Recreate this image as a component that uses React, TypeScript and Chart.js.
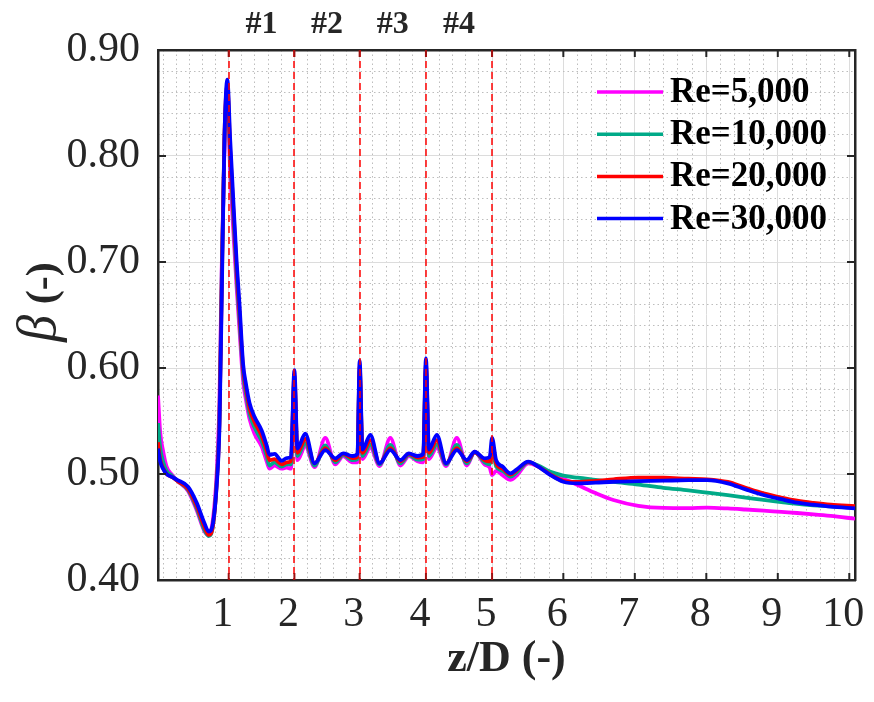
import React, { useEffect, useRef } from "react";
import { Chart, registerables } from "chart.js";

Chart.register(...registerables);

// ---- data (x in axis units; tick labels mapped below) ----
const zPos = [
  0.33, 0.36, 0.40, 0.45, 0.53, 0.61, 0.75, 0.87, 0.98, 1.04,
  1.10, 1.15, 1.19, 1.22, 1.26, 1.30, 1.34, 1.39, 1.43, 1.47,
  1.52, 1.56, 1.61, 1.68, 1.78, 1.85, 1.89, 1.96, 2.06, 2.13,
  2.19, 2.238, 2.28, 2.39, 2.52, 2.67, 2.81, 2.92, 3.05, 3.12,
  3.151, 3.19, 3.30, 3.43, 3.58, 3.72, 3.84, 3.96, 4.04, 4.078,
  4.12, 4.23, 4.36, 4.51, 4.65, 4.76, 4.90, 4.97, 5.003, 5.06,
  5.15, 5.26, 5.34, 5.51, 5.65, 5.82, 6.00, 6.20, 6.45, 6.70,
  7.05, 7.40, 7.75, 8.01, 8.30, 8.55, 8.80, 9.05, 9.27, 9.50,
  9.74, 10.08,
];

const beta5k = [
  0.574, 0.540, 0.522, 0.507, 0.499, 0.493, 0.484, 0.466, 0.446, 0.4425,
  0.458, 0.500, 0.570, 0.690, 0.810, 0.855, 0.785, 0.722, 0.676, 0.636,
  0.588, 0.570, 0.552, 0.538, 0.526, 0.512, 0.505, 0.508, 0.505, 0.506,
  0.505, 0.583, 0.513, 0.526, 0.5065, 0.534, 0.509, 0.517, 0.511, 0.511,
  0.594, 0.514, 0.525, 0.5075, 0.534, 0.508, 0.517, 0.512, 0.511, 0.597,
  0.514, 0.525, 0.5075, 0.534, 0.508, 0.521, 0.509, 0.506, 0.499, 0.503,
  0.499, 0.4945, 0.498, 0.510, 0.507, 0.5005, 0.4955, 0.4896, 0.482, 0.4755,
  0.4700, 0.4680, 0.4678, 0.4682, 0.4675, 0.4665, 0.4654, 0.4642, 0.4632, 0.4620,
  0.4605, 0.4578,
];

const beta10k = [
  0.548, 0.525, 0.512, 0.503, 0.498, 0.493, 0.485, 0.468, 0.447, 0.4415,
  0.452, 0.492, 0.555, 0.680, 0.815, 0.862, 0.798, 0.735, 0.686, 0.645,
  0.595, 0.576, 0.557, 0.544, 0.531, 0.517, 0.508, 0.511, 0.507, 0.509,
  0.509, 0.588, 0.517, 0.529, 0.508, 0.527, 0.511, 0.518, 0.513, 0.514,
  0.598, 0.517, 0.528, 0.509, 0.5275, 0.510, 0.518, 0.5135, 0.514, 0.600,
  0.517, 0.528, 0.509, 0.5275, 0.510, 0.5205, 0.511, 0.509, 0.524, 0.507,
  0.503, 0.4975, 0.501, 0.511, 0.508, 0.502, 0.4985, 0.4965, 0.4945, 0.4925,
  0.4900, 0.4870, 0.4845, 0.4824, 0.4800, 0.4778, 0.4755, 0.4735, 0.4718, 0.4705,
  0.4695, 0.4686,
];

const beta20k = [
  0.530, 0.514, 0.506, 0.500, 0.497, 0.493, 0.486, 0.470, 0.450, 0.4425,
  0.452, 0.490, 0.550, 0.670, 0.820, 0.866, 0.805, 0.742, 0.693, 0.652,
  0.600, 0.581, 0.562, 0.549, 0.536, 0.522, 0.513, 0.514, 0.509, 0.511,
  0.512, 0.593, 0.520, 0.533, 0.510, 0.5245, 0.513, 0.519, 0.515, 0.516,
  0.602, 0.520, 0.532, 0.510, 0.5245, 0.512, 0.519, 0.5155, 0.516, 0.604,
  0.520, 0.532, 0.510, 0.5245, 0.512, 0.5205, 0.513, 0.512, 0.528, 0.510,
  0.505, 0.4995, 0.503, 0.5115, 0.507, 0.4995, 0.4935, 0.4925, 0.4935, 0.4950,
  0.4966, 0.4965, 0.4955, 0.4950, 0.4925, 0.4870, 0.4818, 0.4778, 0.4748, 0.4727,
  0.4710, 0.4697,
];

const beta30k = [
  0.524, 0.512, 0.505, 0.500, 0.497, 0.494, 0.488, 0.473, 0.4535, 0.4456,
  0.454, 0.488, 0.545, 0.660, 0.818, 0.872, 0.815, 0.750, 0.700, 0.660,
  0.604, 0.585, 0.567, 0.554, 0.541, 0.527, 0.518, 0.519, 0.5125, 0.515,
  0.516, 0.598, 0.524, 0.538, 0.510, 0.5226, 0.5148, 0.5195, 0.517, 0.519,
  0.607, 0.523, 0.537, 0.510, 0.5226, 0.5132, 0.5195, 0.517, 0.519, 0.609,
  0.523, 0.537, 0.510, 0.5226, 0.5132, 0.521, 0.5148, 0.516, 0.534, 0.513,
  0.507, 0.5006, 0.5038, 0.5116, 0.507, 0.499, 0.4927, 0.4912, 0.4918, 0.4927,
  0.4932, 0.4937, 0.4942, 0.4943, 0.4912, 0.4855, 0.4802, 0.4762, 0.4730, 0.4710,
  0.4692, 0.4676,
];

const seriesLabels = ["Re=5,000", "Re=10,000", "Re=20,000", "Re=30,000"];
const seriesColors = ["#FF00FF", "#00AA88", "#FF0000", "#0000FF"];
const seriesValues = [beta5k, beta10k, beta20k, beta30k];

const ribPos = [1.319, 2.238, 3.151, 4.078, 5.003];
const ribLabels = ["#1", "#2", "#3", "#4"];
const xTickPos = [1.319, 2.238, 3.151, 4.078, 5.003, 6, 7, 8, 9, 10];
const xTickLabels = ["1", "2", "3", "4", "5", "6", "7", "8", "9", "10"];
const X_MIN = 0.33;
const X_MAX = 10.08;
const Y_MIN = 0.4;
const Y_MAX = 0.9;
const yMajor = [0.4, 0.5, 0.6, 0.7, 0.8, 0.9];

// ---- derived layout helpers ----
const ribMid = ribLabels.map((_, i) => (ribPos[i] + ribPos[i + 1]) / 2);
const xMinor: number[] = (() => {
  const out: number[] = [];
  const step0 = (xTickPos[1] - xTickPos[0]) / 5;
  for (let v = xTickPos[0] - step0; v > X_MIN; v -= step0) out.push(v);
  for (let i = 0; i < xTickPos.length - 1; i++) {
    const st = (xTickPos[i + 1] - xTickPos[i]) / 5;
    for (let k = 1; k < 5; k++) out.push(xTickPos[i] + k * st);
  }
  return out;
})();
const yMinor: number[] = (() => {
  const out: number[] = [];
  for (let k = 0; k <= 25; k++) {
    if (k % 5 !== 0) out.push(0.4 + k * 0.02);
  }
  return out;
})();

const SERIF = "'Liberation Serif', 'Times New Roman', serif";
const AX = "#262626";

const noPad = (s: any) => {
  s.paddingLeft = 0;
  s.paddingRight = 0;
  s.paddingTop = 0;
  s.paddingBottom = 0;
};

const decorPlugin = {
  id: "decor",
  afterDraw(chart: any) {
    const { ctx, chartArea: ca, scales } = chart;
    const xs = scales.x;
    const ys = scales.y;
    ctx.save();
    // inward tick marks
    ctx.lineWidth = 2;
    const seg = (a: number, b: number, c: number, d: number, col: string) => {
      ctx.strokeStyle = col;
      ctx.beginPath();
      ctx.moveTo(a, b);
      ctx.lineTo(c, d);
      ctx.stroke();
    };
    xTickPos.forEach((v) => {
      const px = xs.getPixelForValue(v);
      const col = ribPos.includes(v) ? "#A01010" : AX;
      seg(px, ca.bottom, px, ca.bottom - 7, col);
      seg(px, ca.top, px, ca.top + 7, col);
    });
    yMajor.forEach((v) => {
      const py = ys.getPixelForValue(v);
      seg(ca.left, py, ca.left + 8, py, AX);
      seg(ca.right, py, ca.right - 8, py, AX);
    });

    // legend (inside, top-right, no box)
    chart.data.datasets.forEach((ds: any, i: number) => {
      const y = ca.top + 42 + i * 42.2;
      ctx.strokeStyle = ds.borderColor;
      ctx.lineWidth = 3.5;
      ctx.beginPath();
      ctx.moveTo(ca.right - 258, y);
      ctx.lineTo(ca.right - 192, y);
      ctx.stroke();
      ctx.fillStyle = "#000";
      ctx.font = `bold 35px ${SERIF}`;
      ctx.textAlign = "left";
      ctx.textBaseline = "middle";
      ctx.fillText(ds.label, ca.right - 185, y + 1);
    });

    // y-axis title: italic beta + bold (-)
    ctx.translate(55, 302);
    ctx.rotate(-Math.PI / 2);
    ctx.fillStyle = AX;
    ctx.textBaseline = "alphabetic";
    ctx.textAlign = "left";
    ctx.font = `italic 54px ${SERIF}`;
    const wb = ctx.measureText("β").width;
    ctx.font = `bold 42px ${SERIF}`;
    const w2 = ctx.measureText(" (-)").width;
    const start = -(wb + w2) / 2;
    ctx.font = `italic 54px ${SERIF}`;
    ctx.fillText("β", start, 0);
    ctx.font = `bold 42px ${SERIF}`;
    ctx.fillText(" (-)", start + wb, 0);
    ctx.restore();
  },
};

export default function App() {
  const ref = useRef<HTMLCanvasElement>(null);
  useEffect(() => {
    const canvas = ref.current;
    if (!canvas) return;
    const order = [4, 3, 2, 1];
    const datasets = seriesValues.map((vals, s) => ({
      label: seriesLabels[s],
      data: zPos.map((x, i) => ({ x, y: vals[i] })),
      borderColor: seriesColors[s],
      backgroundColor: seriesColors[s],
      borderWidth: 3.8,
      pointRadius: 0,
      fill: false,
      cubicInterpolationMode: "monotone" as const,
      order: order[s],
    }));

    const chart = new Chart(canvas, {
      type: "line",
      data: { datasets },
      plugins: [decorPlugin],
      options: {
        animation: false,
        responsive: false,
        maintainAspectRatio: false,
        layout: { padding: 0 },
        plugins: { legend: { display: false }, tooltip: { enabled: false } },
        scales: {
          x: {
            type: "linear",
            position: "bottom",
            min: X_MIN,
            max: X_MAX,
            afterBuildTicks: (s: any) => {
              s.ticks = xTickPos.map((v) => ({ value: v }));
            },
            ticks: {
              autoSkip: false,
              maxRotation: 0,
              padding: 10,
              labelOffset: -6,
              color: AX,
              font: { family: SERIF, size: 42 },
              callback: (v: any) => {
                const i = xTickPos.findIndex((p) => Math.abs(p - Number(v)) < 1e-6);
                return i >= 0 ? xTickLabels[i] : "";
              },
            },
            grid: { color: "#DCDCDC", lineWidth: 1, drawTicks: false },
            border: { display: true, color: AX, width: 2.5 },
            title: {
              display: true,
              text: "z/D (-)",
              color: AX,
              font: { family: SERIF, size: 44, weight: "bold" },
              padding: { top: 0, bottom: 16 },
            },
            afterFit: (s: any) => {
              s.height = 122;
              noPad(s);
            },
          },
          xMinor: {
            type: "linear",
            position: "bottom",
            min: X_MIN,
            max: X_MAX,
            afterBuildTicks: (s: any) => {
              s.ticks = xMinor.map((v) => ({ value: v }));
            },
            ticks: { display: false, autoSkip: false },
            grid: { color: "#BDBDBD", lineWidth: 1, drawTicks: false },
            border: { display: false, dash: [1.5, 3] },
            afterFit: (s: any) => {
              s.height = 0;
              noPad(s);
            },
          },
          xRib: {
            type: "linear",
            position: "bottom",
            min: X_MIN,
            max: X_MAX,
            afterBuildTicks: (s: any) => {
              s.ticks = ribPos.map((v) => ({ value: v }));
            },
            ticks: { display: false, autoSkip: false },
            grid: { color: "rgba(255,0,0,0.75)", lineWidth: 2, drawTicks: false, z: 1 },
            border: { display: false, dash: [7, 4] },
            afterFit: (s: any) => {
              s.height = 0;
              noPad(s);
            },
          },
          x2: {
            type: "linear",
            position: "top",
            min: X_MIN,
            max: X_MAX,
            afterBuildTicks: (s: any) => {
              s.ticks = ribMid.map((v) => ({ value: v }));
            },
            ticks: {
              autoSkip: false,
              maxRotation: 0,
              padding: 6,
              color: AX,
              font: { family: SERIF, size: 32, weight: "bold" },
              callback: (v: any) => {
                const i = ribMid.findIndex((p) => Math.abs(p - Number(v)) < 1e-6);
                return i >= 0 ? ribLabels[i] : "";
              },
            },
            grid: { display: false, drawTicks: false },
            border: { display: true, color: AX, width: 2.5 },
            afterFit: (s: any) => {
              s.height = 50;
              noPad(s);
            },
          },
          y: {
            type: "linear",
            position: "left",
            min: Y_MIN,
            max: Y_MAX,
            ticks: {
              stepSize: 0.1,
              padding: 18,
              color: AX,
              font: { family: SERIF, size: 42 },
              callback: (v: any) => Number(v).toFixed(2),
            },
            grid: { color: "#DCDCDC", lineWidth: 1, drawTicks: false },
            border: { display: true, color: AX, width: 2.5 },
            afterFit: (s: any) => {
              s.width = 158;
              noPad(s);
            },
          },
          yMinor: {
            type: "linear",
            position: "left",
            min: Y_MIN,
            max: Y_MAX,
            afterBuildTicks: (s: any) => {
              s.ticks = yMinor.map((v) => ({ value: v }));
            },
            ticks: { display: false, autoSkip: false },
            grid: { color: "#BDBDBD", lineWidth: 1, drawTicks: false },
            border: { display: false, dash: [1.5, 3] },
            afterFit: (s: any) => {
              s.width = 0;
              noPad(s);
            },
          },
          y2: {
            type: "linear",
            position: "right",
            min: Y_MIN,
            max: Y_MAX,
            ticks: { display: false },
            grid: { display: false, drawTicks: false },
            border: { display: true, color: AX, width: 2.5 },
            afterFit: (s: any) => {
              s.width = 19;
              noPad(s);
            },
          },
        },
      } as any,
    });
    return () => chart.destroy();
  }, []);

  return (
    <div style={{ position: "absolute", left: 0, top: 0, width: 874, height: 702, background: "#fff" }}>
      <canvas ref={ref} width={874} height={702} style={{ display: "block" }} />
    </div>
  );
}
